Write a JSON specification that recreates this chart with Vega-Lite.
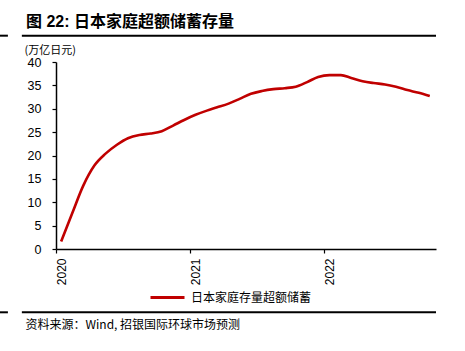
{
  "$schema": "https://vega.github.io/schema/vega-lite/v6.json",
  "autosize": "none",
  "width": 380,
  "height": 187,
  "padding": {"left": 56, "top": 62, "right": 29, "bottom": 102},
  "background": "white",
  "config": {
    "view": {"stroke": null},
    "font": "Liberation Sans, Noto Sans CJK SC",
    "axis": {
      "grid": false,
      "domainColor": "black",
      "domainWidth": 1.5,
      "tickColor": "black",
      "tickWidth": 1.2,
      "tickSize": 4,
      "labelColor": "black",
      "labelFont": "Liberation Sans",
      "labelFontSize": 12.5,
      "labelOverlap": false,
      "titleColor": "black",
      "titleFont": "Noto Sans CJK SC",
      "titleFontWeight": "normal"
    },
    "axisY": {"labelOverlap": false, "labelBound": false}
  },
  "title": {
    "text": "图 22: 日本家庭超额储蓄存量",
    "anchor": "start",
    "frame": "group",
    "dx": -30,
    "offset": 5,
    "font": "Liberation Sans, Noto Sans CJK SC",
    "fontSize": 16,
    "fontWeight": "bold",
    "color": "black"
  },
  "resolve": {"axis": {"x": "independent", "y": "independent"}},
  "data": {
    "values": [
      {"date": "2020-01-15", "value": 1.6, "series": "日本家庭存量超额储蓄"},
      {"date": "2020-02-15", "value": 7.8, "series": "日本家庭存量超额储蓄"},
      {"date": "2020-03-15", "value": 13.5, "series": "日本家庭存量超额储蓄"},
      {"date": "2020-04-15", "value": 17.9, "series": "日本家庭存量超额储蓄"},
      {"date": "2020-05-15", "value": 20.4, "series": "日本家庭存量超额储蓄"},
      {"date": "2020-06-15", "value": 22.3, "series": "日本家庭存量超额储蓄"},
      {"date": "2020-07-15", "value": 23.7, "series": "日本家庭存量超额储蓄"},
      {"date": "2020-08-15", "value": 24.4, "series": "日本家庭存量超额储蓄"},
      {"date": "2020-09-15", "value": 24.7, "series": "日本家庭存量超额储蓄"},
      {"date": "2020-10-15", "value": 25.2, "series": "日本家庭存量超额储蓄"},
      {"date": "2020-11-15", "value": 26.4, "series": "日本家庭存量超额储蓄"},
      {"date": "2020-12-15", "value": 27.6, "series": "日本家庭存量超额储蓄"},
      {"date": "2021-01-15", "value": 28.7, "series": "日本家庭存量超额储蓄"},
      {"date": "2021-02-15", "value": 29.6, "series": "日本家庭存量超额储蓄"},
      {"date": "2021-03-15", "value": 30.3, "series": "日本家庭存量超额储蓄"},
      {"date": "2021-04-15", "value": 31.1, "series": "日本家庭存量超额储蓄"},
      {"date": "2021-05-15", "value": 32.1, "series": "日本家庭存量超额储蓄"},
      {"date": "2021-06-15", "value": 33.2, "series": "日本家庭存量超额储蓄"},
      {"date": "2021-07-15", "value": 33.8, "series": "日本家庭存量超额储蓄"},
      {"date": "2021-08-15", "value": 34.2, "series": "日本家庭存量超额储蓄"},
      {"date": "2021-09-15", "value": 34.4, "series": "日本家庭存量超额储蓄"},
      {"date": "2021-10-15", "value": 34.7, "series": "日本家庭存量超额储蓄"},
      {"date": "2021-11-15", "value": 35.7, "series": "日本家庭存量超额储蓄"},
      {"date": "2021-12-15", "value": 36.8, "series": "日本家庭存量超额储蓄"},
      {"date": "2022-01-15", "value": 37.2, "series": "日本家庭存量超额储蓄"},
      {"date": "2022-02-15", "value": 37.2, "series": "日本家庭存量超额储蓄"},
      {"date": "2022-03-15", "value": 36.6, "series": "日本家庭存量超额储蓄"},
      {"date": "2022-04-15", "value": 35.9, "series": "日本家庭存量超额储蓄"},
      {"date": "2022-05-15", "value": 35.5, "series": "日本家庭存量超额储蓄"},
      {"date": "2022-06-15", "value": 35.2, "series": "日本家庭存量超额储蓄"},
      {"date": "2022-07-15", "value": 34.7, "series": "日本家庭存量超额储蓄"},
      {"date": "2022-08-15", "value": 34.0, "series": "日本家庭存量超额储蓄"},
      {"date": "2022-09-15", "value": 33.4, "series": "日本家庭存量超额储蓄"},
      {"date": "2022-10-15", "value": 32.7, "series": "日本家庭存量超额储蓄"}
    ]
  },
  "layer": [
    {
      "mark": {"type": "line", "interpolate": "monotone", "strokeWidth": 2.6},
      "encoding": {
        "x": {
          "field": "date",
          "type": "temporal",
          "scale": {"domain": [{"year": 2020, "month": 1, "date": 1}, {"year": 2022, "month": 11, "date": 1}]},
          "axis": {
            "format": "%Y",
            "tickCount": {"interval": "year", "step": 1},
            "labelAngle": -90,
            "labelAlign": "right",
            "labelBaseline": "top",
            "labelPadding": 5,
            "labelFontSize": 12,
            "title": "资料来源：Wind, 招银国际环球市场预测",
            "titleFontSize": 12,
            "titleAlign": "left",
            "titleBaseline": "middle",
            "titleX": -31,
            "titleY": 75
          }
        },
        "y": {
          "field": "value",
          "type": "quantitative",
          "scale": {"domain": [0, 40]},
          "axis": {
            "values": [0, 5, 10, 15, 20, 25, 30, 35, 40],
            "labelOverlap": false,
            "labelPadding": 11,
            "title": "(万亿日元)",
            "titleFontSize": 11,
            "titleAngle": 0,
            "titleAlign": "left",
            "titleBaseline": "bottom",
            "titleX": -32,
            "titleY": -7
          }
        },
        "color": {
          "field": "series",
          "type": "nominal",
          "scale": {"range": ["#C00000"]},
          "legend": {
            "title": null,
            "orient": "none",
            "legendX": 93,
            "legendY": 217,
            "padding": 0,
            "symbolType": "stroke",
            "symbolSize": 1156,
            "symbolStrokeWidth": 3,
            "labelOffset": 5,
            "labelFont": "Noto Sans CJK SC",
            "labelFontSize": 12,
            "labelColor": "black"
          }
        }
      }
    },
    {
      "data": {"values": [{}]},
      "mark": {"type": "rule", "color": "black", "strokeWidth": 2},
      "encoding": {
        "x": {"datum": {"year": 2019, "month": 9, "date": 30}, "type": "temporal", "axis": null},
        "x2": {"datum": {"year": 2022, "month": 11, "date": 1}},
        "y": {"datum": 45.63, "type": "quantitative", "axis": null}
      }
    },
    {
      "data": {"values": [{}]},
      "mark": {"type": "rule", "color": "black", "strokeWidth": 2},
      "encoding": {
        "x": {"datum": {"year": 2019, "month": 7, "date": 25}, "type": "temporal", "axis": null},
        "x2": {"datum": {"year": 2019, "month": 8, "date": 23}},
        "y": {"datum": 45.63, "type": "quantitative", "axis": null}
      }
    },
    {
      "data": {"values": [{}]},
      "mark": {"type": "rule", "color": "black", "strokeWidth": 2},
      "encoding": {
        "x": {"datum": {"year": 2019, "month": 9, "date": 30}, "type": "temporal", "axis": null},
        "x2": {"datum": {"year": 2022, "month": 11, "date": 1}},
        "y": {"datum": -13.54, "type": "quantitative", "axis": null}
      }
    },
    {
      "data": {"values": [{}]},
      "mark": {"type": "rule", "color": "black", "strokeWidth": 2},
      "encoding": {
        "x": {"datum": {"year": 2019, "month": 7, "date": 25}, "type": "temporal", "axis": null},
        "x2": {"datum": {"year": 2019, "month": 8, "date": 23}},
        "y": {"datum": -13.54, "type": "quantitative", "axis": null}
      }
    }
  ]
}
